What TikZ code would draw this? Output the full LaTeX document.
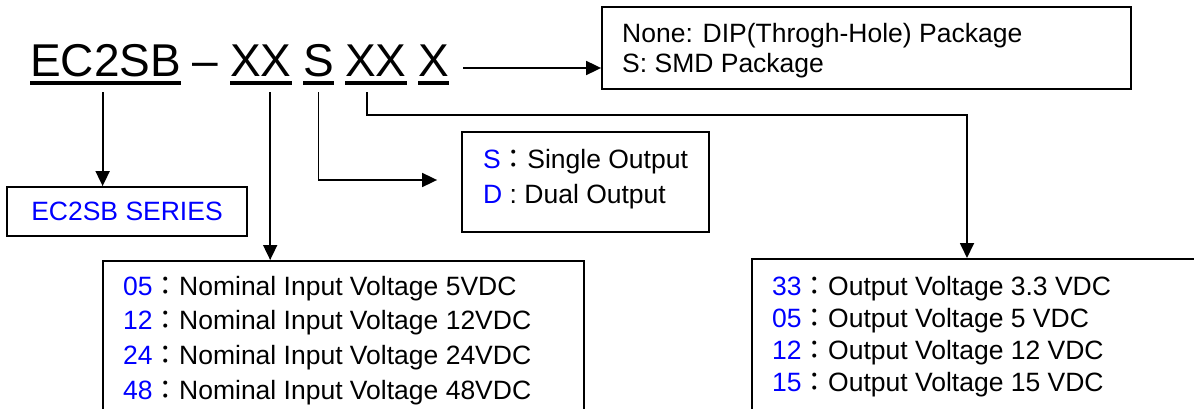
\documentclass[tikz,border=0pt]{standalone}
\usepackage{fontspec}
\setmainfont{Liberation Sans}
\newfontfamily\cjk{Noto Sans CJK TC}
\usetikzlibrary{arrows.meta}

\definecolor{numblue}{RGB}{0,0,255}
\newcommand{\fwc}{{\cjk ：}}

\tikzset{
  ttl/.style={inner sep=0pt, text height=33pt, text depth=6pt, anchor=base west, font=\fontsize{46}{55}\selectfont},
  uline/.style={line width=4pt},
  box/.style={draw, line width=1.8pt, inner sep=0pt},
  txt/.style={inner sep=0pt, anchor=base west, font=\fontsize{26.5}{32}\selectfont},
  arr/.style={line width=1.8pt, -{Triangle[length=15pt,width=14pt]}},
}

\begin{document}
\begin{tikzpicture}[x=1pt,y=-1pt]
\useasboundingbox (0,0) rectangle (1194,409);
\clip (0,0) rectangle (1194,409);

% part number
\node[ttl] (ec) at (30,77) {EC2SB};
\node[ttl] (dash) at (192,77) {–};
\node[ttl] (xx1) at (230,77) {XX};
\node[ttl] (s) at (303,77) {S};
\node[ttl] (xx2) at (345,77) {XX};
\node[ttl] (x) at (418,77) {X};
\foreach \p in {ec,xx1,s,xx2,x} {\draw[uline] (\p.south west) -- (\p.south east);}

% boxes
\node[box, minimum width=529pt, minimum height=82pt] (pkg) at (866.5,48) {};
\node[box, minimum width=240pt, minimum height=49pt, text=numblue, font=\fontsize{26.5}{32}\selectfont] (series) at (127,211.5) {EC2SB SERIES};
\node[box, minimum width=247pt, minimum height=100pt] (sbox) at (585.5,182) {};
\node[box, anchor=north west, minimum width=481pt, minimum height=180pt] (inbox) at (102,260) {};
\node[box, anchor=north west, minimum width=470pt, minimum height=180pt] (outbox) at (751,258) {};

% box texts
\node[txt] (pkg1) at (622,43) {None: DIP(Throgh-Hole) Package};
\node[txt] (pkg2) at (622,73) {S: SMD Package};
\node[txt] (out1) at (483,168) {\textcolor{numblue}{S}\fwc Single Output};
\node[txt] (out2) at (483,203) {\textcolor{numblue}{D} : Dual Output};
\foreach \code/\volt [count=\i] in {05/5,12/12,24/24,48/48}
  \node[txt] (vin\i) at (123,{295+34.7*(\i-1)}) {\textcolor{numblue}{\code}\fwc Nominal Input Voltage \volt VDC};
\foreach \code/\volt [count=\i] in {33/3.3,05/5,12/12,15/15}
  \node[txt] (vout\i) at (772,{295+32*(\i-1)}) {\textcolor{numblue}{\code}\fwc Output Voltage \volt\ VDC};

% connectors
\coordinate (ecx) at ([xshift=-3pt,yshift=-9pt]ec.south);
\coordinate (xx1x) at ([xshift=9.3pt,yshift=-9pt]xx1.south);
\coordinate (sx) at ([yshift=-9pt]s.south);
\coordinate (xx2x) at ([xshift=-8.7pt,yshift=-9pt]xx2.south);
\coordinate (xo) at ([xshift=14.3pt,yshift=9pt]x.base east);
\coordinate (sin) at ([xshift=-24pt,yshift=2pt]sbox.west);
\coordinate (outin) at ([xshift=216pt]outbox.north west);
\draw[arr] (ecx) -- (ecx |- series.north);
\draw[arr] (xx1x) -- (xx1x |- inbox.north);
\draw[arr] (sx) |- (sin);
\draw[arr] (xx2x) -- ++(0,23) -| (outin);
\draw[arr] (xo) -- (xo -| pkg.west);
\end{tikzpicture}
\end{document}
